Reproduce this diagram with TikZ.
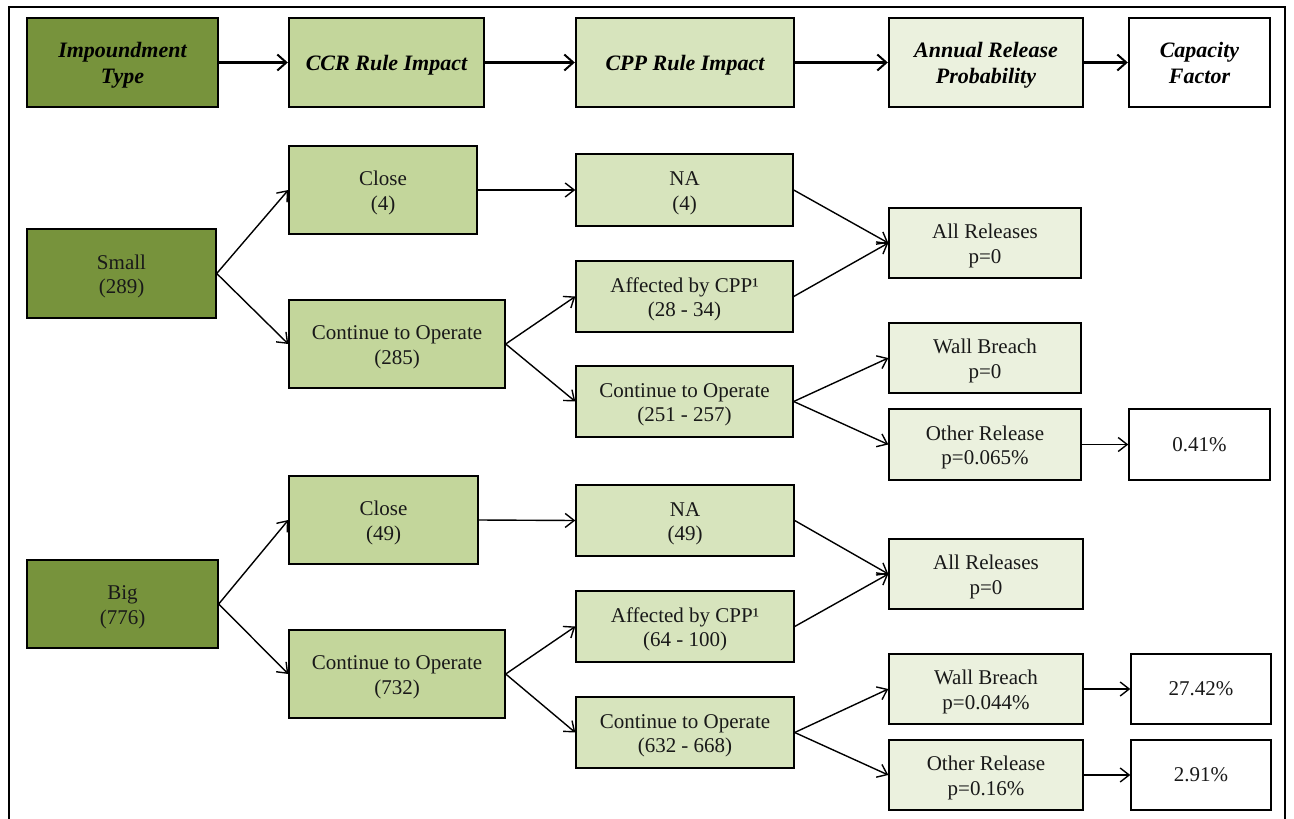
\documentclass[tikz,border=0pt]{standalone}
\usepackage{fontspec}
\setmainfont{Liberation Serif}
\usetikzlibrary{arrows.meta}
\definecolor{dkgreen}{HTML}{77933C}
\definecolor{ccrgreen}{HTML}{C3D69B}
\definecolor{cppgreen}{HTML}{D7E4BD}
\definecolor{arpgreen}{HTML}{EBF1DE}
\newcommand\mltxt[2][-3pt]{\raisebox{#1}[\height][\depth]{\begin{tabular}{@{}c@{}}#2\end{tabular}}}
\newcommand\sltxt[2][-2pt]{\raisebox{#1}[\height][\depth]{#2}}
\tikzset{
  box/.style={draw=black, line width=1.4pt, align=center, inner sep=0pt,
    font=\fontsize{21}{24.5}\selectfont, text=black!90},
  hbox/.style={box, line width=2.4pt, minimum height=89pt, font=\fontsize{22}{26}\selectfont\bfseries\itshape, text=black},
  harrow/.style={line width=2.2pt, -{Straight Barb[length=9pt,width=16pt,line width=2pt]}},
  conn/.style={line width=1.4pt, -{Straight Barb[length=9pt,width=14pt,line width=1.4pt]}},
  frame/.style={line width=2pt}
}
\begin{document}
\begin{tikzpicture}[x=1pt,y=-1pt]
\useasboundingbox (0,0) rectangle (1294,819);
\fill[white] (0,0) rectangle (1294,819);
\draw[frame] (9,819) -- (9,7) -- (1285,7) -- (1285,819);

% header
\node[hbox, fill=dkgreen, minimum width=191pt] (imp) at (122.5,62.5) {\mltxt[-2.5pt]{Impoundment\\Type}};
\node[hbox, fill=ccrgreen, minimum width=195pt] (ccr) at (386.5,62.5) {\sltxt[-2.5pt]{CCR Rule Impact}};
\node[hbox, fill=cppgreen, minimum width=218pt] (cpp) at (685,62.5) {\sltxt[-2.5pt]{CPP Rule Impact}};
\node[hbox, fill=arpgreen, minimum width=194pt] (arp) at (986,62.5) {\mltxt[-2.5pt]{Annual Release\\Probability}};
\node[hbox, fill=white, minimum width=141pt] (cf) at (1199.5,62.5) {\mltxt[-2.5pt]{Capacity\\Factor}};
\draw[harrow] (imp.east) -- (ccr.west);
\draw[harrow] (ccr.east) -- (cpp.west);
\draw[harrow] (cpp.east) -- (arp.west);
\draw[harrow] (arp.east) -- (cf.west);

% small
\node[box, fill=dkgreen, minimum width=189pt, minimum height=89pt] (small) at (121.5,273.5) {\mltxt{Small\\(289)}};
\node[box, fill=ccrgreen, minimum width=188pt, minimum height=88pt] (close1) at (383,190) {\mltxt{Close\\(4)}};
\node[box, fill=ccrgreen, minimum width=216pt, minimum height=88pt] (cont1) at (397,344) {\mltxt{Continue to Operate\\(285)}};
\node[box, fill=cppgreen, minimum width=217pt, minimum height=72pt] (na1) at (684.5,190) {\mltxt{NA\\(4)}};
\node[box, fill=cppgreen, minimum width=217pt, minimum height=71pt] (aff1) at (684.5,296.5) {\mltxt{Affected by CPP¹\\(28 - 34)}};
\node[box, fill=cppgreen, minimum width=217pt, minimum height=71pt] (contb1) at (684.5,401.5) {\mltxt{Continue to Operate\\(251 - 257)}};
\node[box, fill=arpgreen, minimum width=192pt, minimum height=70pt] (ar1) at (985,243) {\mltxt{All Releases\\p=0}};
\node[box, fill=arpgreen, minimum width=192pt, minimum height=70pt] (wb1) at (985,358) {\mltxt{Wall Breach\\p=0}};
\node[box, fill=arpgreen, minimum width=192pt, minimum height=71pt] (or1) at (985,444.5) {\mltxt{Other Release\\p=0.065\%}};
\node[box, fill=white, minimum width=141pt, minimum height=71pt] (cf1) at (1199.5,444.5) {0.41\%};
\draw[conn] (small.east) -- (close1.west);
\draw[conn] (small.east) -- (cont1.west);
\draw[conn] (close1.east) -- (na1.west);
\draw[conn] (cont1.east) -- (aff1.west);
\draw[conn] (cont1.east) -- (contb1.west);
\draw[conn] (na1.east) -- (ar1.west);
\draw[conn] (aff1.east) -- (ar1.west);
\draw[conn] (contb1.east) -- (wb1.west);
\draw[conn] (contb1.east) -- (or1.west);
\draw[conn] (or1.east) -- (cf1.west);

% big
\node[box, fill=dkgreen, minimum width=191pt, minimum height=88pt] (big) at (122.5,604) {\mltxt{Big\\(776)}};
\node[box, fill=ccrgreen, minimum width=189pt, minimum height=88pt] (close2) at (383.5,520) {\mltxt{Close\\(49)}};
\node[box, fill=ccrgreen, minimum width=216pt, minimum height=88pt] (cont2) at (397,674) {\mltxt{Continue to Operate\\(732)}};
\node[box, fill=cppgreen, minimum width=218pt, minimum height=71pt] (na2) at (685,520.5) {\mltxt{NA\\(49)}};
\node[box, fill=cppgreen, minimum width=218pt, minimum height=71pt] (aff2) at (685,626.5) {\mltxt{Affected by CPP¹\\(64 - 100)}};
\node[box, fill=cppgreen, minimum width=218pt, minimum height=71pt] (contb2) at (685,732.5) {\mltxt{Continue to Operate\\(632 - 668)}};
\node[box, fill=arpgreen, minimum width=194pt, minimum height=70pt] (ar2) at (986,574) {\mltxt{All Releases\\p=0}};
\node[box, fill=arpgreen, minimum width=194pt, minimum height=70pt] (wb2) at (986,689) {\mltxt{Wall Breach\\p=0.044\%}};
\node[box, fill=arpgreen, minimum width=194pt, minimum height=70pt] (or2) at (986,775) {\mltxt{Other Release\\p=0.16\%}};
\node[box, fill=white, minimum width=140pt, minimum height=70pt] (cf2) at (1201,689) {27.42\%};
\node[box, fill=white, minimum width=140pt, minimum height=70pt] (cf3) at (1201,775) {2.91\%};
\draw[conn] (big.east) -- (close2.west);
\draw[conn] (big.east) -- (cont2.west);
\draw[conn] (close2.east) -- (na2.west);
\draw[conn] (cont2.east) -- (aff2.west);
\draw[conn] (cont2.east) -- (contb2.west);
\draw[conn] (na2.east) -- (ar2.west);
\draw[conn] (aff2.east) -- (ar2.west);
\draw[conn] (contb2.east) -- (wb2.west);
\draw[conn] (contb2.east) -- (or2.west);
\draw[conn] (wb2.east) -- (cf2.west);
\draw[conn] (or2.east) -- (cf3.west);
\end{tikzpicture}
\end{document}
